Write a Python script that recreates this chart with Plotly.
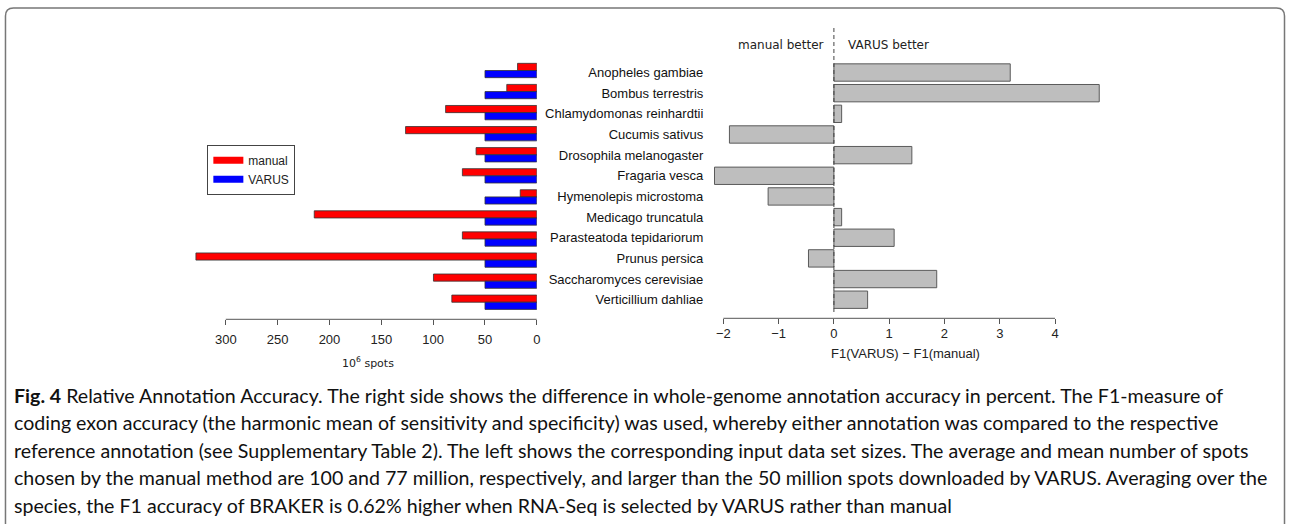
import plotly.graph_objects as go

W, H = 1290, 524

species = [
    "Anopheles gambiae", "Bombus terrestris", "Chlamydomonas reinhardtii",
    "Cucumis sativus", "Drosophila melanogaster", "Fragaria vesca",
    "Hymenolepis microstoma", "Medicago truncatula", "Parasteatoda tepidariorum",
    "Prunus persica", "Saccharomyces cerevisiae", "Verticillium dahliae",
]
manual_spots = [18.6, 29, 88, 126.6, 58.6, 71.8, 16, 214.7, 71.8, 328.8, 99.7, 82]
varus_spots = [50, 50, 50, 50, 50, 50, 50, 50, 50, 50, 50, 50]
f1_diff = [3.19, 4.80, 0.14, -1.89, 1.41, -2.16, -1.19, 0.14, 1.09, -0.46, 1.86, 0.61]

left_ticks = [300, 250, 200, 150, 100, 50, 0]
right_ticks = [-2, -1, 0, 1, 2, 3, 4]

caption_lines = [
    "<b>Fig. 4</b> Relative Annotation Accuracy. The right side shows the difference in whole-genome annotation accuracy in percent. The F1-measure of",
    "coding exon accuracy (the harmonic mean of sensitivity and specificity) was used, whereby either annotation was compared to the respective",
    "reference annotation (see Supplementary Table 2). The left shows the corresponding input data set sizes. The average and mean number of spots",
    "chosen by the manual method are 100 and 77 million, respectively, and larger than the 50 million spots downloaded by VARUS. Averaging over the",
    "species, the F1 accuracy of BRAKER is 0.62% higher when RNA-Seq is selected by VARUS rather than manual",
]


def X(px):
    return px / W


def Y(py):
    return 1 - py / H


HELV = "Liberation Sans, Arial, sans-serif"
DJV = "DejaVu Sans, sans-serif"

fig = go.Figure()

fig.add_trace(go.Bar(
    y=species, x=manual_spots, orientation="h", name="manual",
    marker=dict(color="#ff0000", line=dict(color="#333333", width=0.8)),
    xaxis="x", yaxis="y", showlegend=False,
))
fig.add_trace(go.Bar(
    y=species, x=varus_spots, orientation="h", name="VARUS",
    marker=dict(color="#0000ff", line=dict(color="#333333", width=0.8)),
    xaxis="x", yaxis="y", showlegend=False,
))
fig.add_trace(go.Bar(
    y=species, x=f1_diff, orientation="h", name="diff",
    marker=dict(color="#bebebe", line=dict(color="#5a5a5a", width=1)),
    xaxis="x2", yaxis="y2", showlegend=False, width=0.84,
))
# legend entries (thick lines like the R legend)
for nm, col in [("manual", "#ff0000"), ("VARUS", "#0000ff")]:
    fig.add_trace(go.Scatter(
        x=[None], y=[None], mode="lines", name=nm,
        line=dict(color=col, width=7), xaxis="x", yaxis="y",
    ))

axis_common = dict(showgrid=False, zeroline=False, showline=False)

L0 = 538.5  # pixel of 0 on left axis
LS = 1.04   # px per unit
R0 = 836.5  # pixel of 0 on right axis
RS = 55.45  # px per unit

fig.update_layout(
    width=W, height=H,
    margin=dict(l=0, r=0, t=0, b=0),
    paper_bgcolor="white", plot_bgcolor="white",
    barmode="group", bargap=0.32, bargroupgap=0,
    font=dict(family=HELV, size=13, color="#222222"),
    xaxis=dict(
        domain=[X(L0 - 340 * LS), X(L0)], range=[340, 0], autorange=False,
        tickmode="array", tickvals=left_ticks, ticks="outside", ticklen=5,
        tickcolor="#555555", tickfont=dict(size=13, family=HELV),
        ticklabelstandoff=3, anchor="y", **axis_common,
    ),
    yaxis=dict(
        domain=[Y(319.3), Y(55)], type="category", categoryarray=species,
        range=[11.81, -0.736], autorange=False, showticklabels=False,
        ticks="", anchor="x", **axis_common,
    ),
    xaxis2=dict(
        domain=[X(R0 - 2.2 * RS), X(R0 + 4.9 * RS)], range=[-2.2, 4.9], autorange=False,
        tickmode="array", tickvals=right_ticks,
        ticktext=[("\u2212" + str(-t)) if t < 0 else str(t) for t in right_ticks],
        ticks="outside", ticklen=5, tickcolor="#555555",
        tickfont=dict(size=13, family=HELV), ticklabelstandoff=-2,
        anchor="y2", **axis_common,
    ),
    yaxis2=dict(
        domain=[Y(318.3), Y(50)], type="category", categoryarray=species,
        range=[11.90, -1.09], autorange=False, ticks="",
        tickfont=dict(size=13, family=HELV, color="#111111"),
        ticklabelstandoff=8, anchor="x2", **axis_common,
    ),
    legend=dict(
        x=X(208), y=Y(144.7), xanchor="left", yanchor="top",
        bordercolor="#444444", borderwidth=1, bgcolor="white",
        font=dict(family=HELV, size=12, color="#222222"),
        itemwidth=30, tracegroupgap=0,
    ),
)

shapes = []
# axis lines spanning only the tick range (R style)
shapes.append(dict(type="line", xref="x", yref="paper",
                   x0=min(left_ticks), x1=max(left_ticks), y0=Y(319.3), y1=Y(319.3),
                   line=dict(color="#555555", width=1)))
shapes.append(dict(type="line", xref="x2", yref="paper",
                   x0=min(right_ticks), x1=max(right_ticks), y0=Y(318.3), y1=Y(318.3),
                   line=dict(color="#555555", width=1)))
# dashed zero line
shapes.append(dict(type="line", xref="x2", yref="paper", x0=0, x1=0,
                   y0=Y(312), y1=Y(28), line=dict(color="#444444", width=1, dash="4px,3px")))
# frame with rounded top corners
x0, x1, yt = X(5.5), X(1288.5), Y(8)
rx, ry = 8 / W, 8 / H
path = (f"M {x0},0 L {x0},{yt - ry} Q {x0},{yt} {x0 + rx},{yt} "
        f"L {x1 - rx},{yt} Q {x1},{yt} {x1},{yt - ry} L {x1},0")
shapes.append(dict(type="path", xref="paper", yref="paper", path=path,
                   line=dict(color="#777777", width=1.5)))
fig.update_layout(shapes=shapes)

ann = []
ann.append(dict(xref="x2", yref="paper", x=0, y=Y(45), xanchor="right", yanchor="middle",
                xshift=-8, text="manual better", showarrow=False,
                font=dict(family=DJV, size=12, color="#222222")))
ann.append(dict(xref="x2", yref="paper", x=0, y=Y(45), xanchor="left", yanchor="middle",
                xshift=12, text="VARUS better", showarrow=False,
                font=dict(family=DJV, size=12, color="#222222")))
ann.append(dict(xref="paper", yref="paper", x=X(369), y=Y(362), xanchor="center",
                yanchor="middle", text="10<sup>6</sup> spots", showarrow=False,
                font=dict(family=DJV, size=11, color="#222222")))
ann.append(dict(xref="paper", yref="paper", x=X(908), y=Y(353), xanchor="center",
                yanchor="middle", text="F1(VARUS) \u2212 F1(manual)", showarrow=False,
                font=dict(family=HELV, size=13, color="#222222")))
cap_y = [395, 422.5, 450, 477.5, 505]
for line, py in zip(caption_lines, cap_y):
    ann.append(dict(xref="paper", yref="paper", x=X(12), y=Y(py), xanchor="left",
                    yanchor="middle", text=line, showarrow=False, align="left",
                    font=dict(family="Lato, sans-serif", size=19.6, color="#111111")))
fig.update_layout(annotations=ann)

fig.write_html(
    "out.html",
    config={"displayModeBar": False},
    post_script="document.body.style.margin='0';document.body.style.padding='0';"
                "document.body.style.overflow='hidden';"
                "document.documentElement.style.overflow='hidden';",
)
